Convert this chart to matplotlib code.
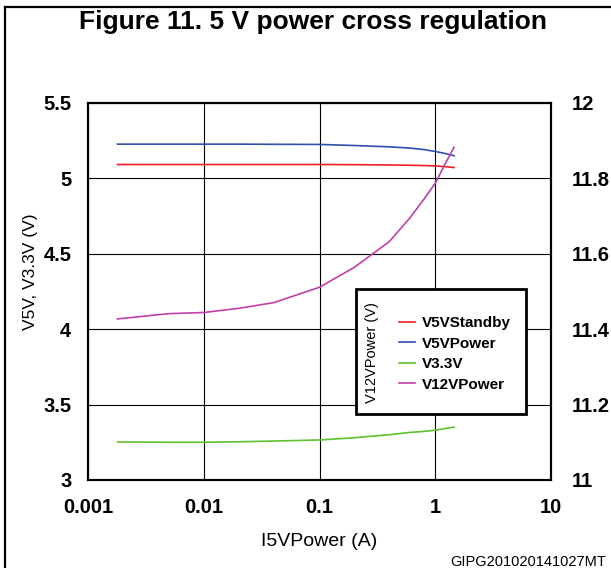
import matplotlib
matplotlib.use('Agg')
import matplotlib.pyplot as plt
from matplotlib.lines import Line2D
from matplotlib.patches import Rectangle
from matplotlib.ticker import FuncFormatter, NullLocator

plt.rcParams['font.family'] = ['Liberation Sans', 'DejaVu Sans']

# I5VPower load current (A)
current = [0.0018, 0.005, 0.01, 0.02, 0.04, 0.1, 0.2, 0.4, 0.6, 0.8, 1.0, 1.2, 1.45]

# output voltages (V)
v5v_standby = [5.091, 5.091, 5.091, 5.091, 5.091, 5.091, 5.090, 5.088, 5.086, 5.084, 5.082, 5.077, 5.071]
v5v_power = [5.226, 5.226, 5.226, 5.226, 5.225, 5.224, 5.217, 5.208, 5.200, 5.190, 5.177, 5.165, 5.149]
v3v3 = [3.252, 3.250, 3.250, 3.253, 3.258, 3.265, 3.280, 3.300, 3.315, 3.322, 3.330, 3.340, 3.350]
v12v_power = [11.427, 11.441, 11.444, 11.455, 11.470, 11.511, 11.564, 11.632, 11.694, 11.745, 11.787, 11.835, 11.882]

left_ticks = [3, 3.5, 4, 4.5, 5, 5.5]
right_ticks = [11, 11.2, 11.4, 11.6, 11.8, 12]
x_ticks = [0.001, 0.01, 0.1, 1, 10]

fig = plt.figure(figsize=(6.11, 5.68), dpi=100)
ax = fig.add_axes([0.144, 0.155, 0.758, 0.664])
ax2 = ax.twinx()

fmt = FuncFormatter(lambda v, p: '%g' % v)

# left axis: 5 V and 3.3 V rails
l1, = ax.plot(current, v5v_standby, color='#f02020', lw=1.2, label='V5VStandby')
l2, = ax.plot(current, v5v_power, color='#3050b0', lw=1.2, label='V5VPower')
l3, = ax.plot(current, v3v3, color='#60c030', lw=1.2, label='V3.3V')
# right axis: 12 V rail
l4, = ax2.plot(current, v12v_power, color='#c040a8', lw=1.2, label='V12VPower')

ax.set_xscale('log')
ax.set_xlim(0.001, 10)
ax.set_ylim(3, 5.5)
ax2.set_ylim(11, 12)
ax.set_xticks(x_ticks)
ax.xaxis.set_minor_locator(NullLocator())
ax.xaxis.set_major_formatter(fmt)
ax.set_yticks(left_ticks)
ax.yaxis.set_major_formatter(fmt)
ax2.set_yticks(right_ticks)
ax2.yaxis.set_major_formatter(fmt)

ax.grid(True, color='black', lw=0.8)
for a in (ax, ax2):
    a.tick_params(length=0, labelsize=14.5)
    for lab in a.get_xticklabels() + a.get_yticklabels():
        lab.set_fontweight('bold')
    for s in a.spines.values():
        s.set_linewidth(1.5)
ax.tick_params(axis='x', pad=13)
ax.tick_params(axis='y', pad=12)
ax2.tick_params(axis='y', pad=15)

ax.set_xlabel('I5VPower (A)', fontsize=14, va='center')
ax.xaxis.set_label_coords(0.5, -0.162)
ax.set_ylabel('V5V, V3.3V (V)', fontsize=12.5, va='center')
ax.yaxis.set_label_coords(-0.125, 0.552)

# legend box with the 12 V axis title sitting inside it
ax2.add_patch(Rectangle((0.579, 0.176), 0.3665, 0.33, transform=ax2.transAxes,
                        facecolor='white', edgecolor='black', lw=2, zorder=4))
ax2.text(0.613, 0.337, 'V12VPower (V)', transform=ax2.transAxes, rotation=90,
         ha='center', va='center', fontsize=10.5, zorder=6)
leg = ax2.legend(handles=[l1, l2, l3, l4], loc='center left', bbox_to_anchor=(0.672, 0.334),
                 frameon=False, borderpad=0, borderaxespad=0, handlelength=1.05,
                 handletextpad=0.45, labelspacing=0.42, prop={'weight': 'bold', 'size': 11})
leg.set_zorder(6)

fig.text(0.512, 1 - 22 / 568, 'Figure 11. 5 V power cross regulation', ha='center', va='center',
         fontsize=19, fontweight='bold')
fig.text(606 / 611, 1 - 562 / 568, 'GIPG201020141027MT', ha='right', va='center', fontsize=10.5)

# page frame lines (top and left)
fig.add_artist(Line2D([5 / 611, 1], [1 - 7 / 568, 1 - 7 / 568], transform=fig.transFigure, color='black', lw=1.6))
fig.add_artist(Line2D([5 / 611, 5 / 611], [0, 1 - 7 / 568], transform=fig.transFigure, color='black', lw=1.6))

plt.savefig('out.png', dpi=100)
